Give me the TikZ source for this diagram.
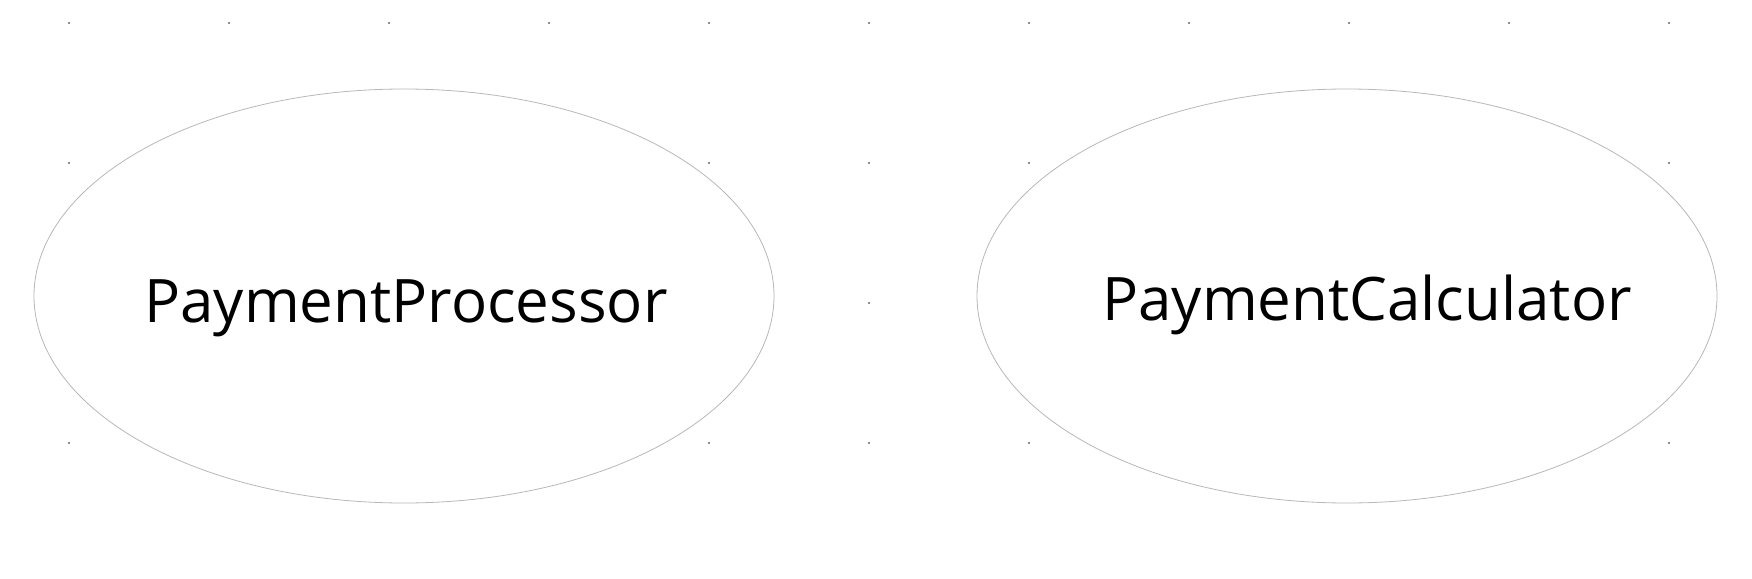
\documentclass[tikz,border=0pt]{standalone}
\usepackage{fontspec}
\setmainfont{Open Sans}
\usetikzlibrary{shapes.geometric}

\begin{document}
\begin{tikzpicture}[
    x=1pt, y=-1pt,
    griddot/.style={rectangle,fill=black!45,inner sep=0pt,minimum size=1.3pt},
    usecase/.style={ellipse,draw=black!28,line width=0.8pt,fill=white,minimum width=740pt,minimum height=414pt,inner sep=0pt},
    name text/.style={font=\fontsize{60}{72}\selectfont,anchor=base,inner sep=0pt}
]
\useasboundingbox (0,0) rectangle (1752,578);

% Hintergrundraster
\foreach \i in {0,...,10}
  \foreach \j in {0,...,3}
    \node[griddot] (dot-\i-\j) at ({69+160*\i},{23+140*\j}) {};

% Anwendungsfaelle
\node[usecase] (processor) at (404,296) {};
\node[usecase] (calculator) at (1347,296) {};

\node[name text] (processortext) at (406,322) {PaymentProcessor};
\node[name text] (calculatortext) at (1367,320) {PaymentCalculator};

\end{tikzpicture}
\end{document}
